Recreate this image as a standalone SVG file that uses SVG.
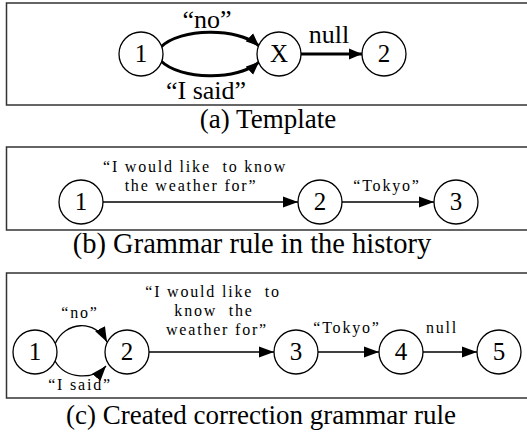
<svg xmlns="http://www.w3.org/2000/svg" width="527" height="434" viewBox="0 0 527 434">
<defs>
<style>
.frame{fill:none;stroke:#333;stroke-width:1.5}
.node{fill:#fff;stroke:#000;stroke-width:1.3}
.nl{font-family:"Liberation Serif","Times New Roman",serif;font-size:25px;text-anchor:middle;fill:#000}
.cap{font-family:"Liberation Serif","Times New Roman",serif;font-size:27px;text-anchor:middle;fill:#000}
.big{font-family:"Liberation Serif","Times New Roman",serif;font-size:26px;text-anchor:middle;fill:#000}
.sm{font-family:"Liberation Serif","Times New Roman",serif;font-size:16px;letter-spacing:1.8px;text-anchor:middle;fill:#000}
.thick{fill:none;stroke:#000;stroke-width:3}
.thin{fill:none;stroke:#000;stroke-width:1.3}
</style>
<marker id="ah" markerUnits="userSpaceOnUse" markerWidth="14" markerHeight="12" viewBox="0 0 14 12" refX="13" refY="6" orient="auto">
<path d="M0,0.5 L13,6 L0,11.5 Z" fill="#000"/>
</marker>
<marker id="ahs" markerUnits="userSpaceOnUse" markerWidth="16" markerHeight="12" viewBox="0 0 16 12" refX="15" refY="6" orient="auto">
<path d="M0,0.5 L15,6 L0,11.5 Z" fill="#000"/>
</marker>
</defs>

<g id="panel-a">
<rect class="frame" x="6.5" y="3" width="540" height="102"/>
<text class="cap" x="268" y="128">(a) Template</text>
</g>
<g id="panel-b">
<rect class="frame" x="6.5" y="147" width="540" height="83"/>
<text class="cap" x="252" y="253" style="font-size:28.5px">(b) Grammar rule in the history</text>
</g>
<g id="panel-c">
<rect class="frame" x="6.5" y="273" width="540" height="125"/>
<text class="cap" x="261" y="424">(c) Created correction grammar rule</text>
</g>

<g id="connectors">
<path class="thick" d="M161,47 C180,28 238,27 259,46" marker-end="url(#ah)"/>
<path class="thick" d="M161,61 C180,80 238,81 259,62" marker-end="url(#ah)"/>
<path class="thick" d="M301,54 L362,54" marker-end="url(#ah)"/>
<text class="big" x="207" y="28">“no”</text>
<text class="big" x="206" y="99">“I said”</text>
<text class="big" x="329" y="43">null</text>

<path class="thin" d="M103,202 L298,202" marker-end="url(#ahs)"/>
<path class="thin" d="M342,202 L434,202" marker-end="url(#ahs)"/>
<text class="sm" x="195" y="172" xml:space="preserve">“I would like  to know</text>
<text class="sm" x="191" y="191">the weather for”</text>
<text class="sm" x="387" y="191">“Tokyo”</text>

<path class="thin" d="M55,344 C65,321 95,319 107,342" marker-end="url(#ahs)"/>
<path class="thin" d="M55,361 C66,380 94,380 106,366" marker-end="url(#ahs)"/>
<path class="thin" d="M149,352 L274,352" marker-end="url(#ahs)"/>
<path class="thin" d="M318,352 L379,352" marker-end="url(#ahs)"/>
<path class="thin" d="M423,352 L477,352" marker-end="url(#ahs)"/>
<text class="sm" x="80" y="318">“no”</text>
<text class="sm" x="80" y="390">“I said”</text>
<text class="sm" x="213" y="297" xml:space="preserve">“I would like  to</text>
<text class="sm" x="214" y="316" xml:space="preserve">know  the</text>
<text class="sm" x="217" y="335">weather for”</text>
<text class="sm" x="347" y="333">“Tokyo”</text>
<text class="sm" x="442" y="333">null</text>
</g>

<g id="a1"><circle class="node" cx="141" cy="54" r="22"/><text class="nl" x="141" y="62">1</text></g>
<g id="aX"><circle class="node" cx="279" cy="54" r="22"/><text class="nl" x="279" y="62">X</text></g>
<g id="a2"><circle class="node" cx="384" cy="54" r="22"/><text class="nl" x="384" y="62">2</text></g>

<g id="b1"><circle class="node" cx="81" cy="202" r="22"/><text class="nl" x="81" y="210">1</text></g>
<g id="b2"><circle class="node" cx="320" cy="202" r="22"/><text class="nl" x="320" y="210">2</text></g>
<g id="b3"><circle class="node" cx="456" cy="202" r="22"/><text class="nl" x="456" y="210">3</text></g>

<g id="c1"><circle class="node" cx="35" cy="352" r="22"/><text class="nl" x="35" y="360">1</text></g>
<g id="c2"><circle class="node" cx="127" cy="352" r="22"/><text class="nl" x="127" y="360">2</text></g>
<g id="c3"><circle class="node" cx="296" cy="352" r="22"/><text class="nl" x="296" y="360">3</text></g>
<g id="c4"><circle class="node" cx="401" cy="352" r="22"/><text class="nl" x="401" y="360">4</text></g>
<g id="c5"><circle class="node" cx="499" cy="352" r="22"/><text class="nl" x="499" y="360">5</text></g>
</svg>
